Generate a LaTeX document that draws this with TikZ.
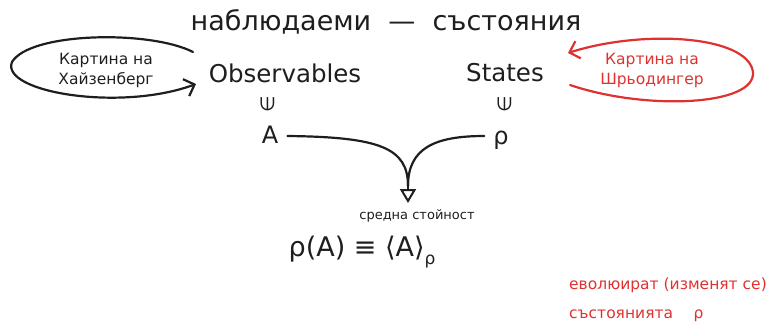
\documentclass[tikz,border=0pt]{standalone}
\usepackage{fontspec}
\setmainfont{DejaVu Sans}
\usetikzlibrary{arrows.meta}
\definecolor{ink}{HTML}{1E1E1E}
\definecolor{redink}{HTML}{E03131}
\tikzset{
  txt/.style={inner sep=0pt, text=ink},
  rtxt/.style={inner sep=0pt, text=redink},
  sketch/.style={draw=ink, line width=2.2pt, line cap=round},
  rsketch/.style={draw=redink, line width=2.2pt, line cap=round},
  hook/.style={-{Straight Barb[length=9pt,width=18pt,line width=2.2pt]}},
  opentri/.style={-{Triangle[open,length=14pt,width=16pt,line width=2pt]}}
}
\begin{document}
\begin{tikzpicture}[x=1pt,y=-1pt]
\useasboundingbox (0,0) rectangle (776,329);
% title
\node[txt, font=\fontsize{27}{30}\selectfont] (title) at (386,22) {наблюдаеми \ — \ състояния};
% main words
\node[txt, font=\fontsize{24.5}{28}\selectfont] (obs) at (285,73) {Observables};
\node[txt, font=\fontsize{24.5}{28}\selectfont] (sta) at (505,73) {States};
% element-of signs
\node[txt, font=\fontsize{19}{19}\selectfont] (in1) at (268,104) {\rotatebox{90}{∈}};
\node[txt, font=\fontsize{19}{19}\selectfont] (in2) at (505,104) {\rotatebox{90}{∈}};
% A and rho
\node[txt, font=\fontsize{24}{26}\selectfont] (A) at (270,135) {A};
\node[txt, font=\fontsize{24}{26}\selectfont] (rho) at (501,140) {ρ};
% merge point
\coordinate (m) at (408,186);
\coordinate (tip) at (408,203);
\draw[sketch] (A.east)++(9,1) .. controls (380,137) and (408,148) .. (m);
\draw[sketch] (rho.west)++(-9,-4) .. controls (435,136) and (408,148) .. (m);
\draw[sketch, opentri] (m) -- (tip);
% labels
\node[txt, font=\fontsize{13}{14}\selectfont] (mean) at (417,216) {средна стойност};
\node[txt, font=\fontsize{27}{30}\selectfont] (expv) at (362,252) {ρ(A) ≡ ⟨A⟩\raisebox{-8pt}{\fontsize{17}{17}\selectfont ρ}};
% Heisenberg
\node[txt, font=\fontsize{15.5}{20}\selectfont, align=center] (heis) at (106,70) {Картина на\\Хайзенберг};
\coordinate (hs) at (193,52);
\coordinate (he) at (196,84);
\draw[sketch, hook] (hs) .. controls (150,30) and (30,32) .. (12,62) .. controls (0,92) and (120,112) .. (he);
% Schroedinger
\node[rtxt, font=\fontsize{15.5}{20}\selectfont, align=center] (schr) at (652,70) {Картина на\\Шрьодингер};
\coordinate (ss) at (570,85);
\coordinate (se) at (568,53);
\draw[rsketch, hook] (ss) .. controls (650,112) and (765,105) .. (752,68) .. controls (740,35) and (640,30) .. (se);
% red note
\node[rtxt, font=\fontsize{15.5}{18}\selectfont, anchor=west] (note1) at (569,285) {еволюират (изменят се)};
\node[rtxt, font=\fontsize{15.5}{18}\selectfont, anchor=west] (note2) at (569,316) {състоянията \quad ρ};
\end{tikzpicture}
\end{document}
